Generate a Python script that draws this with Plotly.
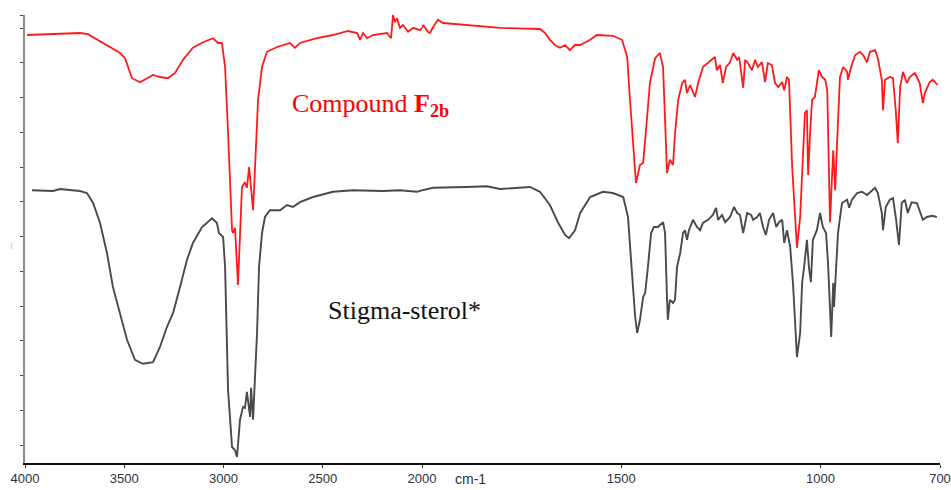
import numpy as np
import plotly.graph_objects as go

# ---------------- data (wavenumber cm-1, relative transmittance) ----------------
f2b_wn = [3990, 3874, 3723, 3683, 3607, 3521, 3496, 3461, 3421, 3385, 3355, 3320, 3280, 3244,
          3204, 3154, 3103, 3053, 3028, 3008, 2992, 2977, 2957, 2952, 2942, 2927, 2907, 2892,
          2882, 2871, 2861, 2851, 2841, 2826, 2806, 2781, 2730, 2665, 2640, 2615, 2529, 2448,
          2373, 2327, 2312, 2297, 2277, 2247, 2176, 2156, 2146, 2136, 2126, 2111, 2096, 2070,
          2045, 2010, 2000, 1997, 1985, 1980, 1972, 1960, 1947, 1887, 1847, 1804, 1704, 1691,
          1679, 1666, 1654, 1641, 1629, 1616, 1603, 1578, 1561, 1521, 1498, 1485, 1478, 1470,
          1463, 1453, 1445, 1435, 1428, 1415, 1403, 1395, 1388, 1385, 1378, 1370, 1365, 1357,
          1347, 1340, 1335, 1327, 1315, 1307, 1295, 1282, 1265, 1260, 1252, 1245, 1237, 1227,
          1219, 1209, 1204, 1194, 1189, 1182, 1172, 1164, 1157, 1147, 1139, 1132, 1122, 1114,
          1106, 1096, 1091, 1084, 1079, 1071, 1064, 1059, 1051, 1044, 1039, 1034, 1031, 1026,
          1021, 1014, 1004, 996, 988, 983, 976, 968, 963, 958, 951, 943, 933, 931, 923, 913,
          901, 893, 883, 876, 863, 856, 846, 843, 838, 826, 818, 811, 806, 800, 793, 783, 776,
          763, 751, 743, 738, 726, 718, 706]
f2b_t = [107.0, 107.2, 107.5, 107.2, 105.0, 102.5, 101.2, 96.2, 95.2, 96.2, 97.0, 96.5, 96.2, 97.5,
         100.8, 103.8, 105.2, 106.2, 105.0, 105.0, 99.0, 82.5, 58.2, 57.5, 58.8, 44.5, 69.0, 70.2,
         68.8, 74.0, 69.0, 63.2, 74.0, 90.8, 99.0, 102.8, 104.0, 105.0, 103.8, 105.0, 106.2, 107.0,
         108.0, 107.5, 105.8, 107.5, 106.2, 107.0, 107.5, 106.2, 112.0, 110.2, 111.2, 108.8, 109.5, 107.8,
         108.8, 108.2, 108.8, 109.5, 107.8, 107.5, 109.0, 110.8, 110.0, 109.5, 109.0, 108.8, 108.5, 107.5,
         105.8, 104.5, 103.8, 104.5, 103.2, 104.5, 104.5, 105.8, 107.0, 106.8, 105.8, 101.5, 90.8, 78.2,
         70.0, 74.5, 75.0, 86.5, 95.0, 101.2, 102.5, 99.0, 82.5, 72.5, 75.8, 74.5, 82.5, 90.8,
         95.0, 95.8, 92.5, 94.5, 91.5, 95.0, 99.0, 100.0, 101.5, 98.2, 99.5, 95.0, 99.0, 100.2,
         102.5, 100.8, 101.5, 93.8, 100.8, 100.0, 98.2, 100.8, 99.0, 100.2, 95.2, 100.0, 99.5, 95.0,
         94.0, 95.2, 93.2, 96.5, 95.8, 74.0, 61.5, 53.8, 61.5, 78.2, 87.5, 88.2, 72.0, 82.5,
         90.8, 91.5, 98.2, 96.5, 95.8, 93.2, 60.2, 78.2, 68.2, 80.8, 96.5, 99.0, 97.8, 95.8, 99.0, 102.0,
         102.8, 102.0, 100.2, 102.8, 103.2, 101.2, 95.8, 88.2, 95.8, 96.5, 96.2, 88.2, 80.0, 94.0, 97.8, 95.0, 96.5,
         97.5, 95.0, 90.0, 92.5, 95.2, 95.8, 94.5]

stig_wn = [3965, 3859, 3824, 3723, 3688, 3657, 3622, 3587, 3557, 3521, 3486, 3446, 3406, 3355,
           3320, 3285, 3254, 3219, 3184, 3154, 3108, 3058, 3033, 3023, 3002, 2992, 2982, 2977,
           2957, 2942, 2932, 2917, 2902, 2892, 2882, 2866, 2861, 2851, 2846, 2831, 2821, 2806,
           2791, 2766, 2715, 2680, 2650, 2615, 2549, 2448, 2348, 2196, 2111, 2025, 2000, 1972,
           1887, 1837, 1804, 1729, 1704, 1679, 1659, 1641, 1631, 1616, 1603, 1578, 1546, 1521,
           1495, 1483, 1473, 1465, 1460, 1453, 1445, 1440, 1433, 1425, 1418, 1408, 1395, 1390,
           1385, 1383, 1378, 1370, 1365, 1360, 1352, 1345, 1340, 1335, 1330, 1320, 1310, 1302,
           1295, 1282, 1270, 1262, 1257, 1247, 1239, 1227, 1217, 1209, 1202, 1194, 1184, 1174,
           1169, 1159, 1152, 1144, 1137, 1129, 1119, 1111, 1104, 1096, 1091, 1084, 1076, 1069,
           1064, 1059, 1051, 1046, 1041, 1034, 1029, 1024, 1019, 1009, 1001, 994, 986, 981,
           973, 968, 966, 961, 956, 946, 933, 928, 921, 908, 896, 883, 871, 863, 856, 846,
           843, 836, 826, 818, 811, 803, 796, 788, 781, 771, 758, 751, 743, 733, 720, 708]
stig_t = [68.2, 68.0, 68.5, 68.0, 67.5, 65.0, 60.0, 52.5, 44.0, 37.5, 30.8, 25.8, 24.8, 25.2,
          29.0, 34.0, 37.5, 44.0, 50.8, 55.0, 59.0, 61.2, 60.0, 57.5, 56.5, 49.0, 32.5, 18.2,
          4.0, 3.2, 1.5, 10.8, 14.0, 13.8, 17.8, 11.5, 18.8, 10.8, 16.5, 32.5, 49.0, 57.5,
          61.5, 63.2, 63.2, 64.5, 64.0, 65.2, 66.5, 67.8, 68.2, 68.0, 68.2, 67.8, 68.2, 68.8,
          69.0, 69.2, 68.5, 69.0, 67.8, 64.5, 60.2, 57.0, 56.2, 58.2, 62.5, 66.5, 67.8, 67.5,
          66.5, 61.5, 47.5, 36.5, 32.5, 35.8, 41.5, 42.5, 49.0, 57.5, 59.0, 59.0, 60.2, 57.5,
          40.8, 35.8, 40.8, 40.0, 40.8, 49.0, 52.5, 57.5, 58.2, 55.8, 58.2, 60.8, 59.0, 58.2,
          60.0, 60.8, 62.0, 63.8, 60.8, 62.0, 60.2, 61.5, 64.0, 62.5, 62.0, 57.5, 62.5, 62.0,
          60.8, 61.5, 62.5, 59.0, 57.0, 60.8, 62.5, 59.0, 60.2, 60.8, 55.0, 58.2, 54.0, 45.0,
          35.8, 26.5, 32.5, 45.0, 49.0, 55.8, 49.0, 45.2, 55.8, 58.2, 62.5, 59.0, 57.5, 50.0,
          31.5, 45.0, 39.0, 49.0, 57.5, 65.0, 65.8, 63.8, 65.8, 67.5, 67.8, 67.0, 68.2, 68.8, 67.5, 62.5,
          58.2, 64.0, 65.8, 66.2, 61.5, 54.5, 65.0, 65.8, 62.5, 65.2, 65.0, 63.2, 60.8, 61.5, 61.8, 61.5]

hi_ticks = [4000, 3500, 3000, 2500, 2000]
lo_ticks = [1500, 1000, 700]
x_title = "cm-1"
label_f2b = "Compound <b>F<sub>2b</sub></b>"
label_stig = "Stigma-sterol*"

# ---------------- figure ----------------
W, H = 951, 490
L, R, T, B = 25, 11, 15, 27
PW, PH = W - L - R, H - T - B
split = 397 / PW  # fraction of plot width used by the 4000-2000 region


def part(wn, t, high):
    wn = np.asarray(wn, float)
    t = np.asarray(t, float)
    m = wn >= 2000 if high else wn <= 2000
    return wn[m], t[m]


fig = go.Figure()
for wn, t, col, w in [(f2b_wn, f2b_t, "#ff1a1a", 1.8), (stig_wn, stig_t, "#4a4a4a", 1.9)]:
    for high, xa in [(True, "x"), (False, "x2")]:
        xx, yy = part(wn, t, high)
        fig.add_trace(go.Scatter(x=xx, y=yy, mode="lines", xaxis=xa, yaxis="y",
                                 line=dict(color=col, width=w), showlegend=False,
                                 hoverinfo="skip"))

tickfont = dict(family="Arial, Liberation Sans, sans-serif", size=13, color="#2b3340")
common = dict(showgrid=False, zeroline=False, showline=True, linecolor="#111111", linewidth=1.5,
              ticks="outside", ticklen=3, tickcolor="#333333", tickfont=tickfont,
              automargin=False)

ytv = [112] + list(108.75 - 8.6875 * np.arange(13))


def px(xp):
    return (xp - L) / PW


def py(yp):
    return (H - B - yp) / PH


fig.update_layout(
    width=W, height=H, autosize=False, showlegend=False,
    margin=dict(l=L, r=R, t=T, b=B, pad=0, autoexpand=False),
    paper_bgcolor="white", plot_bgcolor="white",
    xaxis=dict(domain=[0, split], range=[4000, 2000], tickmode="array",
               tickvals=hi_ticks, ticktext=[str(v) for v in hi_ticks], anchor="y", **common),
    xaxis2=dict(domain=[split, 1], range=[2000, 700], tickmode="array",
                tickvals=lo_ticks, ticktext=[str(v) for v in lo_ticks], anchor="y", **common),
    yaxis=dict(range=[0, 112], showgrid=False, zeroline=False, showline=True, automargin=False,
               linecolor="#8c8c8c", linewidth=1.5, ticks="outside", ticklen=3,
               tickcolor="#444444", tickvals=ytv, showticklabels=False),
    annotations=[
        dict(text=label_f2b, x=px(370), y=py(105), xref="paper", yref="paper",
             showarrow=False, xanchor="center", yanchor="middle",
             font=dict(family="Liberation Serif, Times New Roman, serif", size=26, color="#ff0000")),
        dict(text=label_stig, x=px(404), y=py(310), xref="paper", yref="paper",
             showarrow=False, xanchor="center", yanchor="middle",
             font=dict(family="Liberation Serif, Times New Roman, serif", size=26, color="#111111")),
        dict(text=x_title, x=px(470), y=py(489), xref="paper", yref="paper",
             showarrow=False, xanchor="center", yanchor="bottom",
             font=dict(family="Arial, Liberation Sans, sans-serif", size=14, color="#333333")),
        dict(text="ı", x=px(11), y=py(245), xref="paper", yref="paper",
             showarrow=False, xanchor="center", yanchor="middle",
             font=dict(family="Arial", size=10, color="#c8c8c8")),
    ],
)

fig.write_html("out.html")
